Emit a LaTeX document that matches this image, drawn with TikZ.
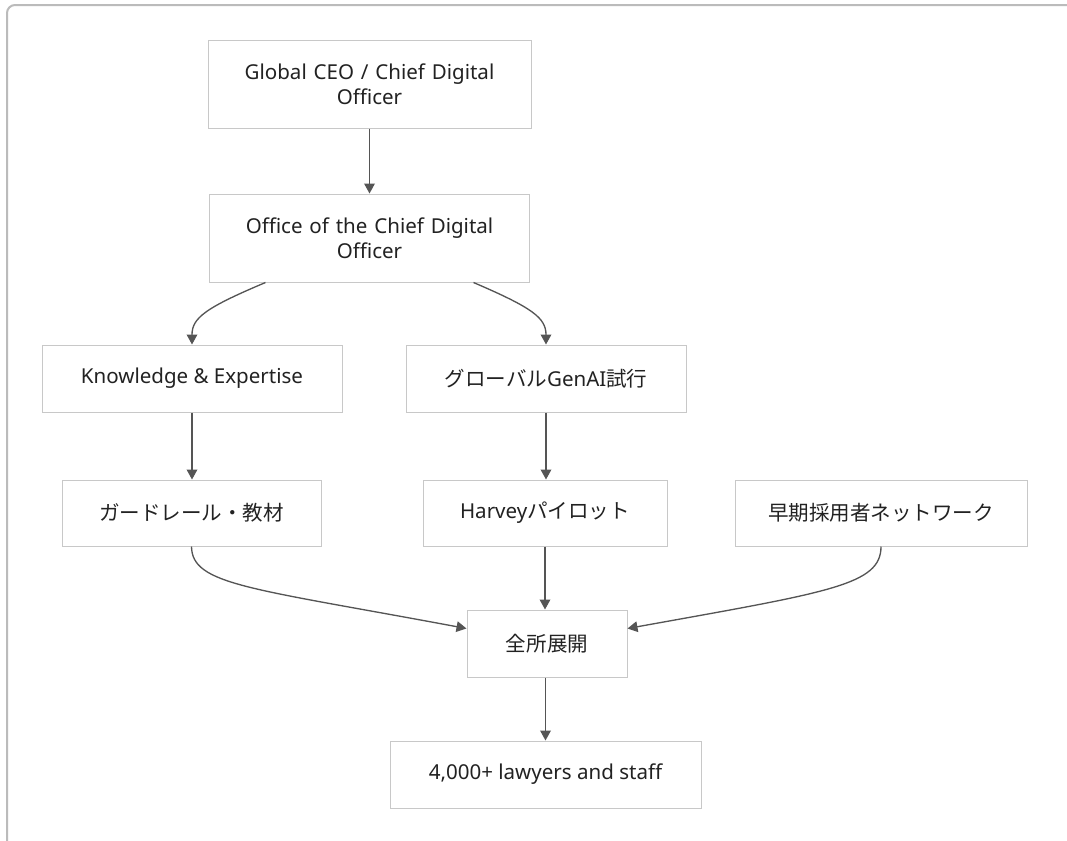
\documentclass[tikz,border=0pt]{standalone}
\usepackage{fontspec}
\setmainfont{Noto Sans}
\newfontfamily\cjk{Noto Sans CJK JP}
\usetikzlibrary{arrows.meta,calc}
\definecolor{boxline}{HTML}{C8C8C8}
\definecolor{frameline}{HTML}{BBBBBB}
\definecolor{arrowc}{HTML}{555555}
\definecolor{txt}{HTML}{222222}
\begin{document}
\begin{tikzpicture}[x=0.75pt,y=-0.75pt,
  box/.style={draw=boxline,line width=0.75pt,fill=white,inner sep=0pt,
    text=txt,font=\fontsize{15.4}{18.5}\selectfont,align=center},
  conn/.style={draw=arrowc,line width=1pt,-{Triangle[length=7.5pt,width=8pt]}}]
\useasboundingbox (0,0) rectangle (1067,840);
\clip (0,0) rectangle (1067,840);
\draw[frameline,line width=1.5pt,rounded corners=6pt] (7,5) rectangle (1085,860);

\node[box,minimum width=323*0.75pt,minimum height=88*0.75pt,text width=300*0.75pt] (ceo) at (369.5,84) {Global CEO / Chief Digital\\Officer};
\node[box,minimum width=320*0.75pt,minimum height=88*0.75pt,text width=300*0.75pt] (ocdo) at (369.5,238) {Office of the Chief Digital\\Officer};
\node[box,minimum width=300*0.75pt,minimum height=67*0.75pt] (ke) at (192,378.5) {Knowledge \& Expertise};
\node[box,minimum width=280*0.75pt,minimum height=67*0.75pt] (gen) at (546,378.5) {{\cjk グローバル}GenAI{\cjk 試行}};
\node[box,minimum width=259*0.75pt,minimum height=66*0.75pt] (guard) at (191.5,513) {\cjk ガードレール・教材};
\node[box,minimum width=244*0.75pt,minimum height=66*0.75pt] (harvey) at (545,513) {Harvey{\cjk パイロット}};
\node[box,minimum width=292*0.75pt,minimum height=66*0.75pt] (early) at (881,513) {\cjk 早期採用者ネットワーク};
\node[box,minimum width=160*0.75pt,minimum height=67*0.75pt] (roll) at (547,643.5) {\cjk 全所展開};
\node[box,minimum width=311*0.75pt,minimum height=67*0.75pt] (staff) at (545.5,774.5) {4,000+ lawyers and staff};

\draw[conn] (ceo.south) -- (ocdo.north);
\draw[conn] ($(ocdo.south)+(-104,0)$) .. controls (205,308) and (192,318) .. (ke.north);
\draw[conn] ($(ocdo.south)+(104,0)$) .. controls (533,308) and (546,318) .. (gen.north);
\draw[conn] (ke.south) -- (guard.north -| ke.south);
\draw[conn] (gen.south) -- (harvey.north -| gen.south);
\draw[conn] (guard.south) .. controls (192,585) and (250,588) .. ($(roll.west)+(0,-15)$);
\draw[conn] (harvey.south) -- (roll.north -| harvey.south);
\draw[conn] (early.south) .. controls (881,585) and (830,592) .. ($(roll.east)+(0,-15)$);
\draw[conn] (roll.south -| staff.north) -- (staff.north);
\end{tikzpicture}
\end{document}
